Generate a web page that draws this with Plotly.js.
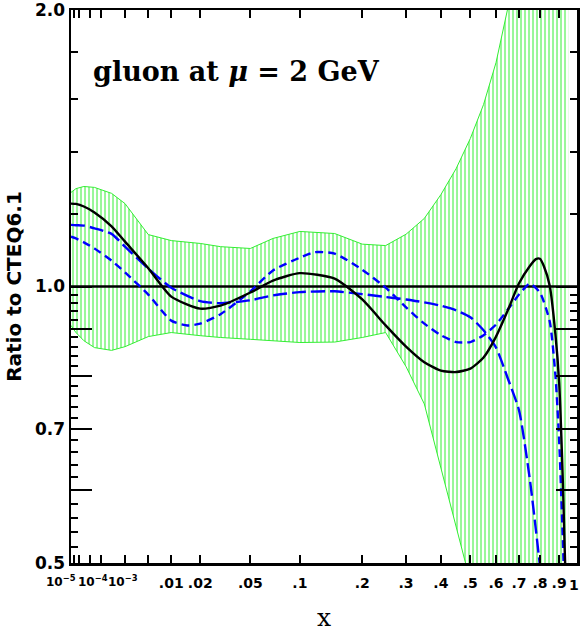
<!DOCTYPE html>
<html>
<head>
<meta charset="utf-8">
<script src="https://cdn.plot.ly/plotly-3.0.1.min.js"></script>
<style>
  html, body { margin: 0; padding: 0; background: #fff; }
  #plot { width: 582px; height: 632px; }
</style>
</head>
<body>
<div id="plot"></div>
<script>
// x axis is drawn in x^(1/3)
const scaleX = (v) => Math.cbrt(v);

// PDF uncertainty band (ratio to CTEQ6.1)
const bandX = [1e-5, 3e-5, 1e-4, 3e-4, 1e-3, 2e-3, 5e-3, 0.01, 0.02, 0.03, 0.05, 0.07, 0.1, 0.15, 0.2, 0.25, 0.3, 0.35, 0.4, 0.45, 0.5, 0.55, 0.6, 0.65, 0.7, 0.75, 0.8, 0.85, 0.9, 0.95];
const bandHi = [1.266, 1.278, 1.285, 1.282, 1.263, 1.231, 1.139, 1.122, 1.114, 1.105, 1.100, 1.128, 1.148, 1.142, 1.112, 1.108, 1.140, 1.186, 1.259, 1.344, 1.449, 1.578, 1.753, 2.01, 2.4, 3.0, 3.8, 5.0, 7.0, 10.0];
const bandLo = [0.907, 0.891, 0.873, 0.858, 0.852, 0.860, 0.882, 0.891, 0.884, 0.880, 0.876, 0.873, 0.869, 0.870, 0.880, 0.891, 0.818, 0.745, 0.634, 0.547, 0.478, 0.42, 0.35, 0.28, 0.22, 0.17, 0.12, 0.08, 0.05, 0.02];

// black solid curve
const solidX = [1e-5, 3e-5, 1e-4, 3e-4, 1e-3, 2e-3, 5e-3, 0.01, 0.02, 0.03, 0.05, 0.07, 0.1, 0.15, 0.2, 0.25, 0.3, 0.35, 0.4, 0.45, 0.5, 0.55, 0.6, 0.65, 0.7, 0.75, 0.78, 0.8, 0.82, 0.85, 0.88, 0.9, 0.92, 0.93, 0.94];
const solidY = [1.231, 1.230, 1.222, 1.204, 1.163, 1.119, 1.047, 0.975, 0.946, 0.953, 0.985, 1.015, 1.034, 1.020, 0.968, 0.907, 0.860, 0.827, 0.810, 0.807, 0.814, 0.837, 0.882, 0.942, 1.008, 1.052, 1.071, 1.072, 1.052, 1.002, 0.887, 0.786, 0.615, 0.52, 0.45];

// blue long-dashed curve
const longX = [1e-5, 3e-5, 1e-4, 3e-4, 1e-3, 2e-3, 5e-3, 0.01, 0.02, 0.03, 0.05, 0.07, 0.1, 0.15, 0.2, 0.25, 0.3, 0.35, 0.4, 0.45, 0.5, 0.55, 0.6, 0.65, 0.7, 0.75, 0.8, 0.85];
const longY = [1.167, 1.166, 1.165, 1.157, 1.141, 1.105, 1.046, 0.997, 0.964, 0.959, 0.966, 0.978, 0.986, 0.988, 0.981, 0.974, 0.968, 0.961, 0.953, 0.942, 0.926, 0.896, 0.858, 0.794, 0.733, 0.618, 0.496, 0.38];

// blue short-dashed curve
const shortX = [1e-5, 3e-5, 1e-4, 3e-4, 1e-3, 2e-3, 5e-3, 0.01, 0.015, 0.02, 0.03, 0.05, 0.07, 0.1, 0.12, 0.15, 0.2, 0.25, 0.3, 0.35, 0.4, 0.45, 0.5, 0.55, 0.6, 0.65, 0.7, 0.75, 0.8, 0.85, 0.88, 0.9, 0.92, 0.93, 0.94];
const shortY = [1.133, 1.128, 1.117, 1.100, 1.067, 1.036, 0.980, 0.918, 0.907, 0.911, 0.933, 0.988, 1.041, 1.075, 1.090, 1.086, 1.043, 0.997, 0.949, 0.911, 0.885, 0.870, 0.870, 0.885, 0.909, 0.944, 0.980, 1.007, 0.985, 0.916, 0.80, 0.68, 0.53, 0.46, 0.40];

// axis ticks
const xLabelVals = [0.01, 0.02, 0.05, 0.1, 0.2, 0.3, 0.4, 0.5, 0.6, 0.7, 0.8, 0.9, 1];
const xLabelText = ['.01', '.02', '.05', '.1', '.2', '.3', '.4', '.5', '.6', '.7', '.8', '.9', ''];
const xSmallTicks = [2e-5, 5e-5, 2e-4, 5e-4, 2e-3, 5e-3];
const xDecadeTicks = [1e-5, 1e-4, 1e-3, 0.01, 0.1];
// labels written beside their ticks (crowded ends of the axis)
const xSideVals = [1e-5, 1e-4, 1e-3, 1];
const xSideText = ['10<sup>\u22125</sup>', '10<sup>\u22124</sup>', '10<sup>\u22123</sup>', '1'];
const xSideShift = [-10, 9, 11, -3];

const yTickVals = [0.5, 0.6, 0.7, 0.8, 0.9, 1.0, 2.0];
const yTickText = ['0.5', ' ', '0.7', ' ', ' ', '1.0', '2.0'];
const yMinorVals = [0.52, 0.54, 0.56, 0.58, 0.62, 0.64, 0.66, 0.68, 0.72, 0.74, 0.76, 0.78,
  0.82, 0.84, 0.86, 0.88, 0.92, 0.94, 0.96, 0.98, 1.2, 1.4, 1.6, 1.8];

// tiny padding so that ticks sitting on the frame are kept
const eps = 1e-6;
const xRange = [scaleX(1e-5) - eps, scaleX(1) + eps];
const yRange = [Math.log10(0.5) - eps, Math.log10(2) + eps];
const green = '#33ee33';

const data = [
  {
    x: bandX.map(scaleX), y: bandLo,
    mode: 'lines', line: { color: green, width: 1 },
    hoverinfo: 'skip',
  },
  {
    x: bandX.map(scaleX), y: bandHi,
    mode: 'lines', line: { color: green, width: 1 },
    fill: 'tonexty', fillcolor: 'rgba(0,0,0,0)',
    fillpattern: { shape: '|', fgcolor: green, bgcolor: 'rgba(0,0,0,0)', size: 4, solidity: 0.25 },
    hoverinfo: 'skip',
  },
  {
    x: [scaleX(1e-5), scaleX(1)], y: [1, 1],
    mode: 'lines', line: { color: 'black', width: 2.5 },
  },
  {
    x: longX.map(scaleX), y: longY,
    mode: 'lines', line: { color: '#0000ff', width: 2.4, dash: '14px,5px', shape: 'spline', smoothing: 0.6 },
  },
  {
    x: shortX.map(scaleX), y: shortY,
    mode: 'lines', line: { color: '#0000ff', width: 2.4, dash: '8px,5px', shape: 'spline', smoothing: 0.6 },
  },
  {
    x: solidX.map(scaleX), y: solidY,
    mode: 'lines', line: { color: 'black', width: 2.4, shape: 'spline', smoothing: 0.6 },
  },
];

const tickFont = { family: 'DejaVu Sans', size: 14, color: 'black', weight: 'bold' };
const powerFont = { family: 'DejaVu Sans', size: 12, color: 'black', weight: 'bold' };

const layout = {
  width: 582,
  height: 632,
  margin: { l: 71, r: 5, t: 10, b: 69 },
  paper_bgcolor: 'white',
  plot_bgcolor: 'white',
  showlegend: false,
  xaxis: {
    range: xRange,
    tickmode: 'array',
    tickvals: xLabelVals.map(scaleX),
    ticktext: xLabelText,
    ticks: 'inside', ticklen: 8, tickwidth: 2, tickcolor: 'black',
    minor: { tickmode: 'array', tickvals: xSmallTicks.map(scaleX), ticks: 'inside', ticklen: 8, tickwidth: 2, tickcolor: 'black', showgrid: false },
    showline: true, linewidth: 2.5, linecolor: 'black', mirror: 'ticks',
    showgrid: false, zeroline: false,
    tickfont: tickFont,
    ticklabelstandoff: 6,
    ticklabeloverflow: 'allow',
    title: { text: 'x', font: { family: 'DejaVu Serif', size: 25, color: 'black' }, standoff: 20 },
  },
  xaxis2: {
    overlaying: 'x', anchor: 'y', side: 'bottom',
    range: xRange,
    tickmode: 'array',
    tickvals: xDecadeTicks.map(scaleX),
    ticks: 'inside', ticklen: 20, tickwidth: 2, tickcolor: 'black',
    showticklabels: false,
    showline: true, linewidth: 2.5, linecolor: 'black', mirror: 'ticks',
    showgrid: false, zeroline: false,
  },
  yaxis: {
    type: 'log',
    range: yRange,
    tickmode: 'array',
    tickvals: yTickVals,
    ticktext: yTickText,
    ticks: 'inside', ticklen: 21, tickwidth: 2, tickcolor: 'black',
    minor: { tickmode: 'array', tickvals: yMinorVals, ticks: 'inside', ticklen: 7, tickwidth: 2, tickcolor: 'black', showgrid: false },
    showline: true, linewidth: 2.5, linecolor: 'black', mirror: 'ticks',
    showgrid: false, zeroline: false,
    tickfont: { family: 'DejaVu Sans', size: 17, color: 'black', weight: 'bold' },
    ticklabeloverflow: 'allow',
    title: { text: 'Ratio to CTEQ6.1', font: { family: 'DejaVu Sans', size: 20, color: 'black', weight: 'bold' }, standoff: 8 },
  },
  annotations: [
    {
      xref: 'paper', yref: 'paper', x: 0.04, y: 0.92,
      xanchor: 'left', yanchor: 'top', showarrow: false,
      text: 'gluon at <i>\u03bc</i> = 2 GeV',
      font: { family: 'DejaVu Serif', size: 27, color: 'black', weight: 'bold' },
    },
  ].concat(xSideVals.map((v, i) => ({
    xref: 'x', yref: 'paper', x: scaleX(v), y: 0,
    xanchor: 'center', yanchor: 'top', xshift: xSideShift[i],
    yshift: i < 3 ? -8 : -12,
    showarrow: false, text: xSideText[i], font: i < 3 ? powerFont : tickFont,
  }))),
};

Plotly.newPlot('plot', data, layout, { displayModeBar: false, staticPlot: true });
</script>
</body>
</html>
